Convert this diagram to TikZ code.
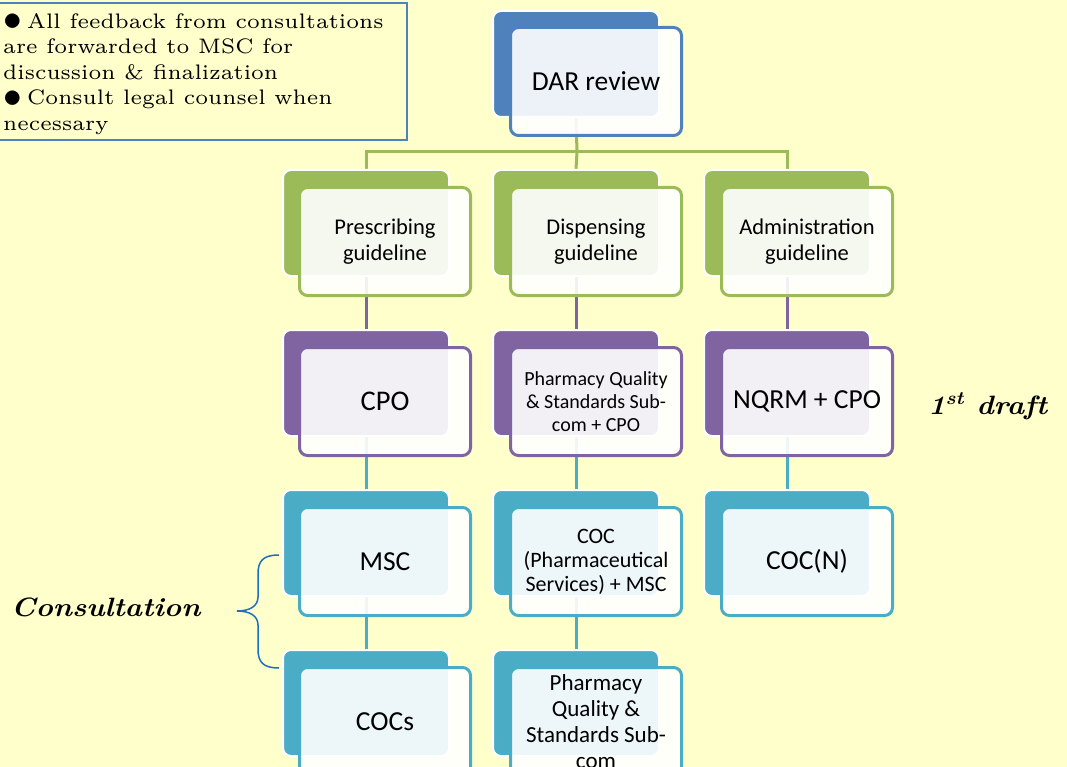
\documentclass[tikz,border=0pt]{standalone}
\usepackage{fontspec}
\usepackage{graphicx}
\setmainfont{lmroman10-regular.otf}[ItalicFont=lmroman10-italic.otf,BoldFont=lmroman10-bold.otf,BoldItalicFont=lmroman10-bolditalic.otf]
\newfontfamily\notefont{lmroman6-regular.otf}
\newfontfamily\calibri{Carlito}
\definecolor{bgyellow}{HTML}{FFFFCC}
\definecolor{cblue}{HTML}{4F81BD}
\definecolor{cgreen}{HTML}{9BBB59}
\definecolor{cpurple}{HTML}{8064A2}
\definecolor{caqua}{HTML}{4BACC6}
\definecolor{bracec}{HTML}{1F6FC0}
\newcommand\notebullet{\makebox[24pt][l]{\raisebox{-2.5pt}{\scalebox{1.8}{$\bullet$}}}}
\pgfdeclarelayer{bglayer}
\pgfdeclarelayer{linklayer}
\pgfsetlayers{bglayer,linklayer,main}
\tikzset{
  backbox/.style={draw=white, line width=2pt, fill=#1, rounded corners=8pt,
    minimum width=166pt, minimum height=106pt, anchor=north west, inner sep=0pt},
  frontbox/.style={draw=#1, line width=3pt, fill=white, fill opacity=0.9, text opacity=1,
    rounded corners=8pt, minimum width=171pt, minimum height=108pt, anchor=north west,
    inner sep=0pt, align=center, font=\calibri\fontsize{27.5}{32}\selectfont},
  midtext/.style={font=\calibri\fontsize{22.5}{26}\selectfont},
  smalltext/.style={font=\calibri\fontsize{20}{23}\selectfont},
  link/.style={draw=#1, line width=3pt},
  label/.style={font=\bfseries\itshape\fontsize{26.5}{30}\selectfont, inner sep=0pt,
    anchor=base west, xscale=1.11, transform shape},
}
\begin{document}
\begin{tikzpicture}[x=1pt,y=-1pt]
\useasboundingbox (0,0) rectangle (1067,767);
\begin{pgfonlayer}{bglayer}
\fill[bgyellow] (0,0) rectangle (1067,767);
\end{pgfonlayer}
\clip (0,0) rectangle (1067,767);

% note box
\node[draw=cblue, line width=2pt, fill=bgyellow, minimum width=412pt, minimum height=137pt,
  anchor=north west, inner sep=0pt] (notebox) at (-6,2) {};
\node[anchor=north west, inner sep=0pt, align=left,
  font=\notefont\fontsize{21}{25.5}\selectfont] (note) at (3,13)
  {\notebullet All feedback from consultations\\are forwarded to MSC for\\discussion \& finalization\\\notebullet Consult legal counsel when\\necessary};

% DAR review
\node[backbox=cblue] (dar) at (492,10) {};
\node[frontbox=cblue] (fdar) at (509,26) {DAR review};

% row 1
\node[backbox=cgreen] (p1) at (282,169) {};
\node[frontbox=cgreen, midtext] (fp1) at (298,186) {Prescribing\\guideline};
\node[backbox=cgreen] (p2) at (492,169) {};
\node[frontbox=cgreen, midtext] (fp2) at (509,186) {Dispensing\\guideline};
\node[backbox=cgreen] (p3) at (703,169) {};
\node[frontbox=cgreen, midtext] (fp3) at (720,186) {Administration\\guideline};

% row 2
\node[backbox=cpurple] (c1) at (282,329) {};
\node[frontbox=cpurple, font=\calibri\fontsize{28.5}{32}\selectfont] (fc1) at (298,346) {CPO};
\node[backbox=cpurple] (c2) at (492,329) {};
\node[frontbox=cpurple, smalltext] (fc2) at (509,346) {Pharmacy Quality\\\& Standards Sub-\\com + CPO};
\node[backbox=cpurple] (c3) at (703,329) {};
\node[frontbox=cpurple] (fc3) at (720,346) {NQRM + CPO};

% row 3
\node[backbox=caqua] (m1) at (282,489) {};
\node[frontbox=caqua] (fm1) at (298,506) {MSC};
\node[backbox=caqua] (m2) at (492,489) {};
\node[frontbox=caqua, font=\calibri\fontsize{22}{24}\selectfont] (fm2) at (509,506) {COC\\(Pharmaceutical\\Services) + MSC};
\node[backbox=caqua] (m3) at (703,489) {};
\node[frontbox=caqua] (fm3) at (720,506) {COC(N)};

% row 4
\node[backbox=caqua] (s1) at (282,649) {};
\node[frontbox=caqua] (fs1) at (298,666) {COCs};
\node[backbox=caqua] (s2) at (492,649) {};
\node[frontbox=caqua, font=\calibri\fontsize{23}{26}\selectfont] (fs2) at (509,666) {Pharmacy\\Quality \&\\Standards Sub-\\com};

% connectors
\begin{pgfonlayer}{linklayer}
\coordinate (hub) at (577,152);
\draw[link=cgreen] (dar.south) -- (hub);
\draw[link=cgreen] (p1.north) |- (hub) -| (p3.north);
\draw[link=cgreen] (hub) -- (p2.north);
\draw[link=cpurple] (p1.south) -- (c1.north);
\draw[link=cpurple] (p2.south) -- (c2.north);
\draw[link=cpurple] (p3.south) -- (c3.north);
\draw[link=caqua] (c1.south) -- (m1.north);
\draw[link=caqua] (c2.south) -- (m2.north);
\draw[link=caqua] (c3.south) -- (m3.north);
\draw[link=caqua] (m1.south) -- (s1.north);
\draw[link=caqua] (m2.south) -- (s2.north);
\end{pgfonlayer}

% labels
\node[label] (draft) at (928,414) {1\textsuperscript{st} draft};
\node[label] (cons) at (11,616) {Consultation};
\draw[bracec, line width=1.5pt] (279,555) .. controls (263,555) and (258,561) .. (258,574)
  -- (258,597) .. controls (258,606) and (250,611) .. (237,611)
  .. controls (250,611) and (258,616) .. (258,625)
  -- (258,649) .. controls (258,662) and (263,668) .. (279,668);
\end{tikzpicture}
\end{document}
